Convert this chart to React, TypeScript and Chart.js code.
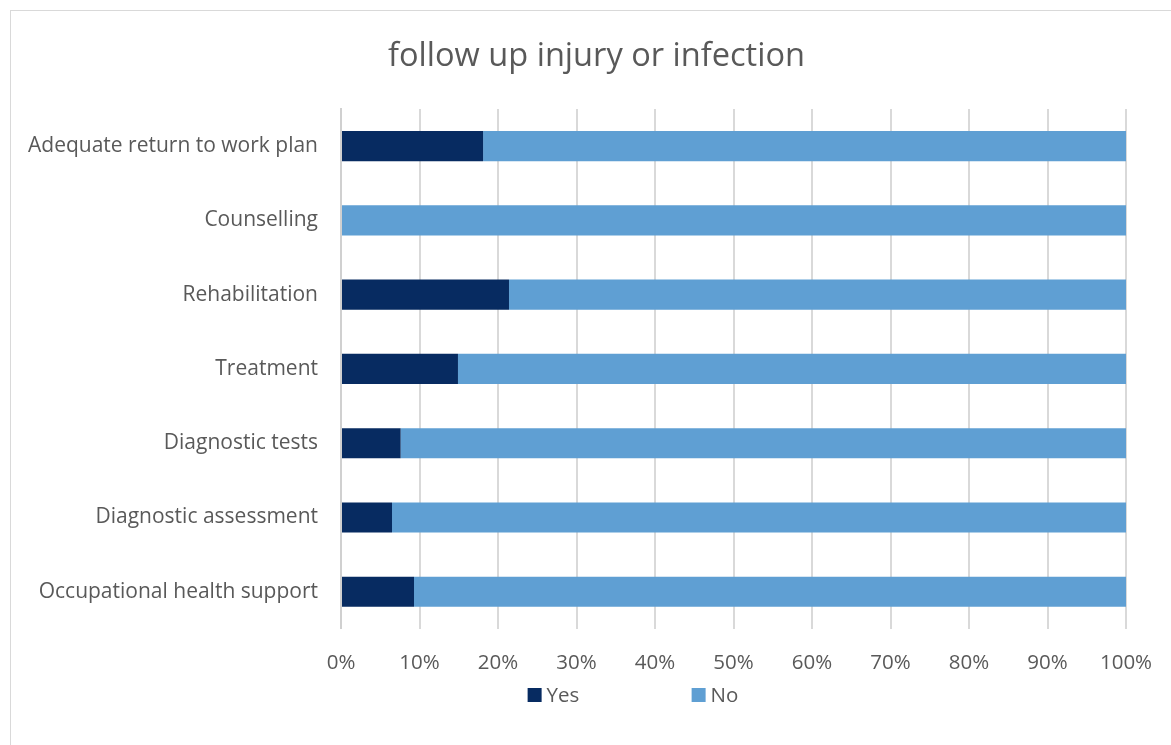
import React, { useEffect, useRef } from "react";
import { Chart, registerables } from "chart.js";

Chart.register(...registerables);

const categories = [
  "Adequate return to work plan",
  "Counselling",
  "Rehabilitation",
  "Treatment",
  "Diagnostic tests",
  "Diagnostic assessment",
  "Occupational health support",
];
const yesValues = [18.1, 0, 21.4, 14.9, 7.6, 6.5, 9.3];
const noValues = [81.9, 100, 78.6, 85.1, 92.4, 93.5, 90.7];
const seriesLabels = ["Yes", "No"];
const seriesColors = ["#072B61", "#5F9FD3"];
const titleText = "follow up injury or infection";

const FONT = "'Open Sans', 'DejaVu Sans', sans-serif";
const TEXT = "#595959";

const frameAndLegend = {
  id: "frameAndLegend",
  afterLayout(chart: any) {
    // centre the title over the whole chart object (which extends past the right edge)
    const tb = chart.titleBlock;
    if (tb) {
      const target = 596.5;
      const cur = (tb.left + tb.right) / 2;
      tb.left += target - cur;
      tb.right += target - cur;
    }
  },
  beforeDraw(chart: any) {
    const ctx = chart.ctx;
    ctx.save();
    ctx.fillStyle = "#ffffff";
    ctx.fillRect(0, 0, chart.width, chart.height);
    ctx.strokeStyle = "#d9d9d9";
    ctx.lineWidth = 1;
    ctx.strokeRect(10.5, 10.5, 1300, 900);
    ctx.restore();
  },
  afterDraw(chart: any) {
    const ctx = chart.ctx;
    ctx.save();
    ctx.font = `20.5px ${FONT}`;
    ctx.textBaseline = "middle";
    ctx.textAlign = "left";
    const box = 14;
    const gapText = 5;
    const step = 164;
    const ds = chart.data.datasets;
    const lastW = box + gapText + ctx.measureText(ds[ds.length - 1].label).width;
    const total = step * (ds.length - 1) + lastW;
    let x = 633 - total / 2;
    const y = 695;
    ds.forEach((d: any) => {
      ctx.fillStyle = d.backgroundColor;
      ctx.fillRect(x, y - box / 2, box, box);
      ctx.fillStyle = TEXT;
      ctx.fillText(d.label, x + box + gapText, y + 1);
      x += step;
    });
    ctx.restore();
  },
};

export default function App() {
  const ref = useRef<HTMLCanvasElement>(null);
  useEffect(() => {
    if (!ref.current) return;
    const chart = new Chart(ref.current, {
      type: "bar",
      data: {
        labels: categories,
        datasets: [
          {
            label: seriesLabels[0],
            data: yesValues,
            backgroundColor: seriesColors[0],
            barPercentage: 0.405,
            categoryPercentage: 1,
          },
          {
            label: seriesLabels[1],
            data: noValues,
            backgroundColor: seriesColors[1],
            barPercentage: 0.405,
            categoryPercentage: 1,
          },
        ],
      },
      options: {
        indexAxis: "y",
        animation: false,
        responsive: false,
        devicePixelRatio: 1,
        layout: { padding: { left: 0, right: 45, top: 0, bottom: 47.6 } },
        plugins: {
          legend: { display: false },
          tooltip: { enabled: false },
          title: {
            display: true,
            text: titleText,
            color: TEXT,
            font: { family: FONT, size: 32.6, weight: "normal" },
            padding: { top: 37.5, bottom: 32.4 },
          },
        },
        scales: {
          x: {
            stacked: true,
            min: 0,
            max: 100,
            afterFit: (scale: any) => {
              scale.paddingLeft = 0;
              scale.paddingRight = 0;
            },
            ticks: {
              stepSize: 10,
              callback: (v: any) => v + "%",
              color: TEXT,
              font: { family: FONT, size: 20.5 },
              padding: 22,
              maxRotation: 0,
            },
            grid: { color: "#d9d9d9", lineWidth: 2, drawTicks: false },
            border: { display: false },
          },
          y: {
            stacked: true,
            afterFit: (scale: any) => {
              scale.width = 341;
            },
            ticks: {
              color: TEXT,
              font: { family: FONT, size: 21 },
              padding: 23,
            },
            grid: { display: false, drawTicks: false },
            border: { display: true, color: "#d0d0d0", width: 2 },
          },
        },
      },
      plugins: [frameAndLegend],
    });
    return () => chart.destroy();
  }, []);
  return (
    <div style={{ position: "absolute", left: 0, top: 0, width: 1171, height: 745 }}>
      <canvas ref={ref} width={1171} height={745} />
    </div>
  );
}
